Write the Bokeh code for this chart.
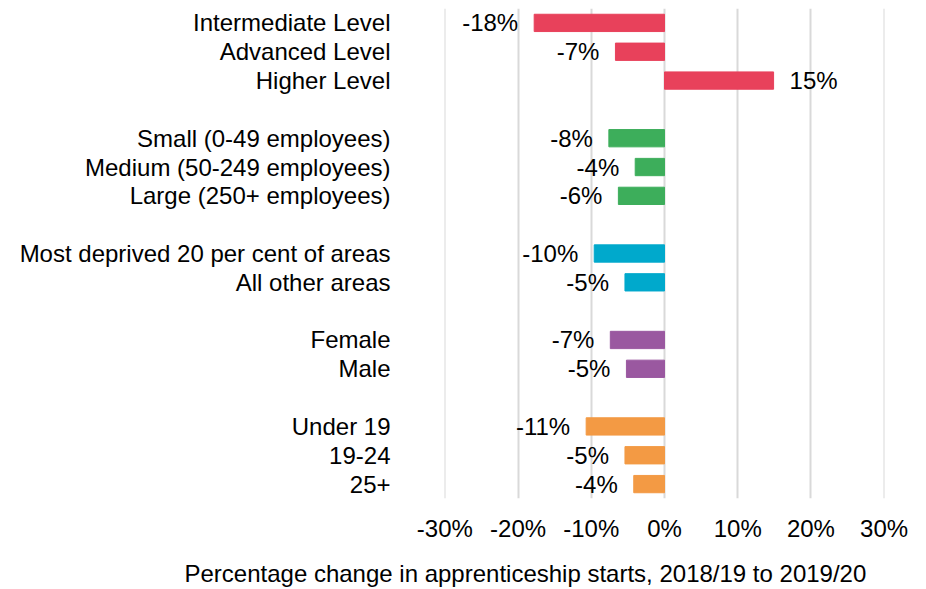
from bokeh.plotting import figure
from bokeh.models import ColumnDataSource, FixedTicker, Range1d, LinearAxis
from bokeh.core.properties import value
from bokeh.embed import file_html
from bokeh.resources import INLINE

categories = ["Intermediate Level", "Advanced Level", "Higher Level",
              "Small (0-49 employees)", "Medium (50-249 employees)", "Large (250+ employees)",
              "Most deprived 20 per cent of areas", "All other areas",
              "Female", "Male",
              "Under 19", "19-24", "25+"]
values = [-17.8, -6.7, 14.9, -7.6, -4.0, -6.3, -9.6, -5.4, -7.4, -5.2, -10.7, -5.4, -4.2]
value_labels = ["-18%", "-7%", "15%", "-8%", "-4%", "-6%", "-10%", "-5%", "-7%", "-5%", "-11%", "-5%", "-4%"]
groups = [0, 0, 0, 1, 1, 1, 2, 2, 3, 3, 4, 4, 4]
group_colors = ["#E8415B", "#3DAE5B", "#00A9CC", "#9A58A0", "#F39A44"]
x_ticks = [-30, -20, -10, 0, 10, 20, 30]
x_tick_labels = ["-30%", "-20%", "-10%", "0%", "10%", "20%", "30%"]
x_title = "Percentage change in apprenticeship starts, 2018/19 to 2019/20"

FONT = "Liberation Sans"
FS = "24px"

pos = [i + g for i, g in enumerate(groups)]
colors = [group_colors[g] for g in groups]
aligns = ["left" if v >= 0 else "right" for v in values]
offsets = [16 if v >= 0 else -16 for v in values]

src = ColumnDataSource(dict(y=pos, v=values, lab=value_labels, c=colors, al=aligns, off=offsets))

p = figure(width=918, height=589, output_backend="svg", toolbar_location=None,
           x_range=Range1d(-30.05, 30.05), y_range=Range1d(max(pos) + 0.5, -0.5),
           min_border_left=444, min_border_right=34, min_border_top=8, min_border_bottom=0)
p.outline_line_color = None
p.background_fill_color = "white"

p.hbar(y="y", left=0, right="v", height=0.6, color="c", source=src)
p.text(x="v", y="y", text="lab", text_align="al", x_offset="off", text_baseline="middle",
       text_font=value(FONT), text_font_size=FS, text_color="#000000", source=src)


def style_axis(ax, standoff):
    ax.axis_line_color = None
    ax.major_tick_line_color = None
    ax.minor_tick_line_color = None
    ax.major_tick_out = 0
    ax.major_tick_in = 0
    ax.major_label_standoff = standoff
    ax.major_label_text_font = FONT
    ax.major_label_text_font_size = FS
    ax.major_label_text_color = "#000000"


# x axis
p.xaxis.ticker = FixedTicker(ticks=x_ticks)
p.xaxis.major_label_overrides = {t: l for t, l in zip(x_ticks, x_tick_labels)}
style_axis(p.xaxis[0], 16)

# x axis title (drawn as a second, label-only axis so it can sit off-centre like the original)
p.extra_x_ranges = {"title": Range1d(-30.05, 30.05)}
title_axis = LinearAxis(x_range_name="title", ticker=FixedTicker(ticks=[-19]),
                        major_label_overrides={-19: x_title})
style_axis(title_axis, 15)
p.add_layout(title_axis, "below")

# y axis
p.yaxis.ticker = FixedTicker(ticks=pos)
p.yaxis.major_label_overrides = {t: l for t, l in zip(pos, categories)}
style_axis(p.yaxis[0], 54)

p.xgrid.ticker = FixedTicker(ticks=x_ticks)
p.xgrid.grid_line_color = "#D9D9D9"
p.xgrid.grid_line_width = 2
p.ygrid.visible = False

open("out.html", "w").write(file_html(p, INLINE))
